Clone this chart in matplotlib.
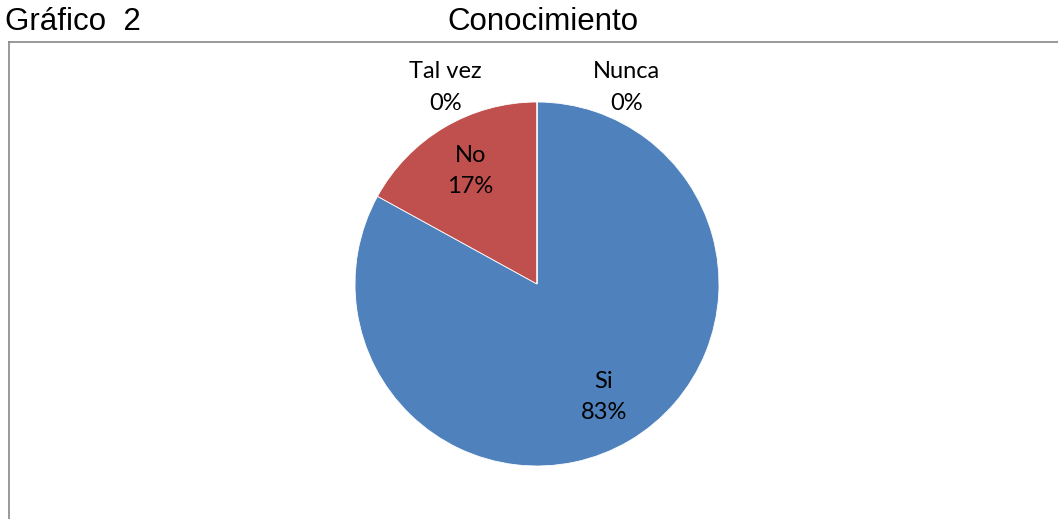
import matplotlib.pyplot as plt
from matplotlib.lines import Line2D
import numpy as np

# Data
labels = ["Si", "No", "Tal vez", "Nunca"]
values = [83, 17, 0, 0]
colors = ["#4F81BD", "#C0504D", "#9BBB59", "#8064A2"]

W, H = 1058, 519
fig = plt.figure(figsize=(W / 100, H / 100), dpi=100)

# Titles
fig.text(5 / W, 1 - 22 / H, "Gráfico  2", fontsize=22.5, family="Liberation Sans",
         ha="left", va="center")
fig.text(543 / W, 1 - 22 / H, "Conocimiento", fontsize=22.5, family="Liberation Sans",
         ha="center", va="center")

# Chart area border (top and left only)
fig.add_artist(Line2D([8.5 / W, 1], [1 - 42 / H, 1 - 42 / H], color="#878787", lw=1.2))
fig.add_artist(Line2D([8.5 / W, 8.5 / W], [1 - 42 / H, 0], color="#878787", lw=1.2))

# Pie axes: centre (537, 284), radius 182 px
cx, cy, r = 537, 284, 182
ax = fig.add_axes([(cx - r) / W, (H - cy - r) / H, 2 * r / W, 2 * r / H])
wedges, _ = ax.pie(values, colors=colors, startangle=90, counterclock=False,
                   wedgeprops=dict(edgecolor="white", linewidth=0.6))
ax.set_xlim(-1, 1)
ax.set_ylim(-1, 1)
ax.axis("off")

font = dict(family="Lato", fontsize=17, ha="center", va="center", linespacing=1.6)
for w, lab, v in zip(wedges, labels, values):
    if v > 0:
        ang = np.deg2rad((w.theta1 + w.theta2) / 2)
        ax.text(0.72 * np.cos(ang), 0.72 * np.sin(ang), f"{lab}\n{v}%", **font)

# zero-value labels sit above the pie
ax.text(-0.505, 1.08, f"{labels[2]}\n{values[2]}%", clip_on=False, **font)
ax.text(0.49, 1.08, f"{labels[3]}\n{values[3]}%", clip_on=False, **font)

fig.savefig("out.png", dpi=100)
